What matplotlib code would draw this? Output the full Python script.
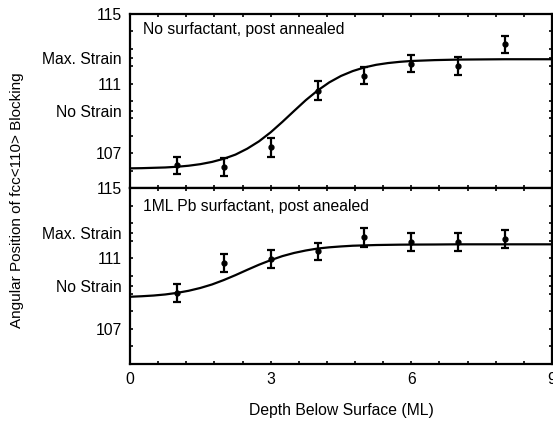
import numpy as np
import matplotlib
matplotlib.use("Agg")
import matplotlib.pyplot as plt
from matplotlib.ticker import MultipleLocator, FixedLocator

plt.rcParams['font.family'] = ['Liberation Sans', 'DejaVu Sans']

# measured points (depth in ML, angle in deg)
depth = [1, 2, 3, 4, 5, 6, 7, 8]
angle_annealed = [106.3, 106.2, 107.35, 110.6, 111.45, 112.15, 112.0, 113.25]
err_annealed = [0.5, 0.5, 0.55, 0.55, 0.5, 0.5, 0.5, 0.5]
angle_pb = [109.05, 110.75, 110.97, 111.4, 112.2, 111.93, 111.93, 112.1]
err_pb = [0.5, 0.5, 0.5, 0.5, 0.55, 0.5, 0.5, 0.5]

# fitted curves
fit_depth = [0, 0.25, 0.5, 0.75, 1.0, 1.25, 1.5, 1.75, 2.0, 2.25, 2.5, 2.75,
             3.0, 3.25, 3.5, 3.75, 4.0, 4.25, 4.5, 4.75, 5.0, 5.25, 5.5, 5.75,
             6.0, 6.5, 7.0, 7.5, 8.0, 8.5, 9.0]
fit_annealed = [106.13, 106.14, 106.16, 106.18, 106.22, 106.28, 106.37, 106.50,
                106.68, 106.92, 107.26, 107.68, 108.20, 108.80, 109.43, 110.05,
                110.60, 111.07, 111.44, 111.72, 111.93, 112.08, 112.18, 112.25,
                112.30, 112.35, 112.38, 112.39, 112.40, 112.40, 112.40]
fit_pb = [108.82, 108.85, 108.89, 108.95, 109.04, 109.16, 109.32, 109.52,
          109.77, 110.05, 110.35, 110.64, 110.90, 111.13, 111.31, 111.45,
          111.56, 111.63, 111.68, 111.72, 111.74, 111.76, 111.77, 111.78,
          111.785, 111.79, 111.80, 111.80, 111.80, 111.80, 111.80]

ytick_vals = [107, 109.45, 111, 112.45, 115]
ytick_text = ["107", "No Strain", "111", "Max. Strain", "115"]
panel_titles = ["No surfactant, post annealed", "1ML Pb surfactant, post anealed"]

fig = plt.figure(figsize=(5.53, 4.24), dpi=100)
left, right = 130 / 553, 552 / 553
y_top, y_mid, y_bot = 1 - 14 / 424, 1 - 188 / 424, 1 - 364 / 424
ax1 = fig.add_axes([left, y_mid, right - left, y_top - y_mid])
ax2 = fig.add_axes([left, y_bot, right - left, y_mid - y_bot])

sets = [(ax1, angle_annealed, err_annealed, fit_annealed),
        (ax2, angle_pb, err_pb, fit_pb)]
for i, (ax, ang, err, fit) in enumerate(sets):
    ax.plot(fit_depth, fit, color="k", lw=1.6)
    ax.errorbar(depth, ang, yerr=err, fmt="o", color="k", ms=3.5,
                elinewidth=1.6, capsize=3, capthick=1.6)
    ax.set_xlim(0, 9)
    ax.set_ylim(105, 115)
    ax.xaxis.set_major_locator(FixedLocator([0, 3, 6, 9]))
    ax.xaxis.set_minor_locator(MultipleLocator(0.6))
    ax.yaxis.set_major_locator(FixedLocator(ytick_vals))
    ax.set_yticklabels(ytick_text)
    ax.yaxis.set_minor_locator(MultipleLocator(1))
    ax.tick_params(which="both", direction="in", top=True, right=True,
                   length=2.5, width=1.2, labelsize=11.3, pad=6)
    for s in ax.spines.values():
        s.set_linewidth(1.6)
    ax.text(0.03, 0.91 if i == 0 else 0.895, panel_titles[i], transform=ax.transAxes,
            fontsize=11.3, va="center", ha="left")

ax1.tick_params(labelbottom=False)

fig.text(17 / 553, 1 - 200 / 424, "Angular Position of fcc<110> Blocking",
         rotation=90, va="center", ha="center", fontsize=11)
fig.text((left + right) / 2, 1 - 410 / 424, "Depth Below Surface (ML)",
         va="center", ha="center", fontsize=11.3)

fig.savefig("out.png", dpi=100)
